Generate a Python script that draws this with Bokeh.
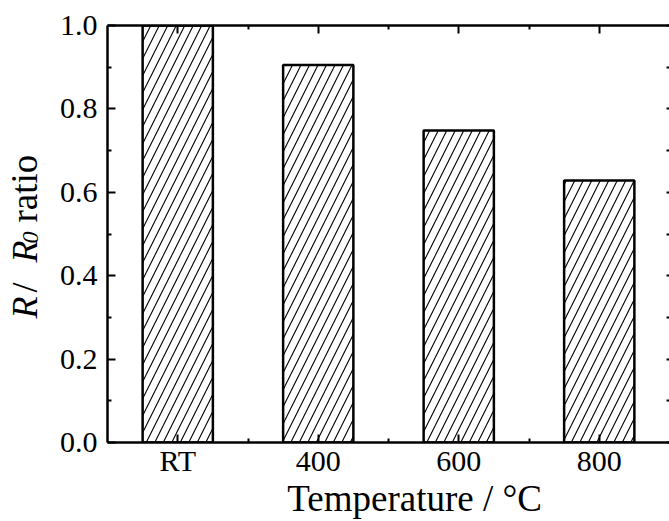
import math
from bokeh.plotting import figure
from bokeh.layouts import row, column
from bokeh.models import Range1d, FixedTicker, LinearAxis, ColumnDataSource
from bokeh.core.properties import value
from bokeh.embed import file_html
from bokeh.resources import INLINE

categories = ["RT", "400", "600", "800"]
ratio = [1.0, 0.905, 0.748, 0.628]
y_ticks = [0.0, 0.2, 0.4, 0.6, 0.8, 1.0]
y_minor = [0.1, 0.3, 0.5, 0.7, 0.9]
x_title = "Temperature / °C"
y_title_parts = ["R", "/", "R", "0", "ratio"]
y_title_styles = ["italic", "normal", "italic", "italic", "normal"]
y_title_sizes = ["36px", "36px", "36px", "24px", "37px"]

FONT = "Liberation Serif"
W, H = 669, 521
LAB_W = 56            # width of the strip holding the y title
MAIN_H = 479          # height of main figure (title strip below)
X0, X1, Y0, Y1 = 107, 669, 442, 25  # frame edges in page pixels
n = len(categories)

xpos = [i + 0.5 for i in range(n)]
x_minor = [float(i) for i in range(1, n)]
src = ColumnDataSource(dict(x=xpos, top=ratio, cat=categories))

# ---------------- main chart ----------------
p = figure(width=W - LAB_W, height=MAIN_H, output_backend="svg", toolbar_location=None,
           x_range=Range1d(0, n), y_range=Range1d(0, 1.0),
           x_axis_location=None, y_axis_location=None,
           min_border_left=X0 - LAB_W, min_border_right=W - X1, min_border_top=Y1,
           min_border_bottom=0)
p.xgrid.visible = False
p.ygrid.visible = False
p.outline_line_color = None
p.background_fill_color = "white"
p.border_fill_color = "white"

p.vbar(x="x", top="top", bottom=0, width=0.5, source=src,
       fill_color="white", line_color="black", line_width=2.5,
       hatch_pattern="/", hatch_color="black", hatch_scale=17, hatch_weight=1.1)

xt = FixedTicker(ticks=xpos, minor_ticks=x_minor)
yt = FixedTicker(ticks=y_ticks, minor_ticks=y_minor)


def style(ax, labels=True, ticks=None):
    ax.axis_line_width = 2.5
    ax.axis_line_color = "black"
    ax.major_tick_in = 8
    ax.major_tick_out = 0
    ax.minor_tick_in = 4
    ax.minor_tick_out = 0
    ax.major_tick_line_width = 2
    ax.minor_tick_line_width = 2
    ax.major_tick_line_color = "black"
    ax.minor_tick_line_color = "black"
    ax.major_label_text_font = FONT
    ax.major_label_text_font_size = "30px"
    ax.major_label_text_color = "black"
    if not labels:
        ax.major_label_overrides = {t: "" for t in ticks}
        ax.major_label_standoff = 0


bottom = LinearAxis(ticker=xt)
bottom.major_label_overrides = {x: c for x, c in zip(xpos, categories)}
style(bottom)
bottom.major_label_standoff = 1
p.add_layout(bottom, "below")

left = LinearAxis(ticker=yt)
left.major_label_overrides = {v: f"{v:.1f}" for v in y_ticks}
style(left)
left.major_label_standoff = 10
p.add_layout(left, "left")

top = LinearAxis(ticker=xt)
style(top, labels=False, ticks=xpos)
p.add_layout(top, "above")

right = LinearAxis(ticker=yt)
style(right, labels=False, ticks=y_ticks)
right.axis_line_color = None
right.major_tick_in = 3
right.minor_tick_in = 3
p.add_layout(right, "right")


def strip(w, h):
    f = figure(width=w, height=h, output_backend="svg", toolbar_location=None,
               x_range=Range1d(0, w), y_range=Range1d(0, h),
               x_axis_location=None, y_axis_location=None,
               min_border_left=0, min_border_right=0, min_border_top=0,
               min_border_bottom=0)
    f.xgrid.visible = False
    f.ygrid.visible = False
    f.outline_line_color = None
    f.background_fill_color = "white"
    f.border_fill_color = "white"
    return f


# ---------------- y title strip (left) ----------------
ylab = strip(LAB_W, H)
# anchors in strip pixels (x = baseline side, y = start of each piece from page top)
ypx_x = [24, 24, 24, 30, 24]
ypx_y = [318, 292, 262, 243, 222]
ysrc = ColumnDataSource(dict(x=ypx_x, y=[H - v for v in ypx_y], text=y_title_parts,
                             style=y_title_styles, size=y_title_sizes))
ylab.text(x="x", y="y", text="text", source=ysrc, angle=math.pi / 2,
          text_font=value(FONT), text_font_style="style", text_font_size="size",
          text_align="left", text_baseline="alphabetic", text_color="black")

# ---------------- x title strip (bottom) ----------------
XL_H = H - MAIN_H
xlab = strip(W - LAB_W, XL_H)
xsrc = ColumnDataSource(dict(x=[391 - LAB_W], y=[H - 498], text=[x_title]))
xlab.text(x="x", y="y", text="text", source=xsrc,
          text_font=value(FONT), text_font_size=value("37px"),
          text_align="center", text_baseline="alphabetic", text_color="black")

layout = row(ylab, column(p, xlab, spacing=0), spacing=0)

open("out.html", "w").write(file_html(layout, INLINE))
